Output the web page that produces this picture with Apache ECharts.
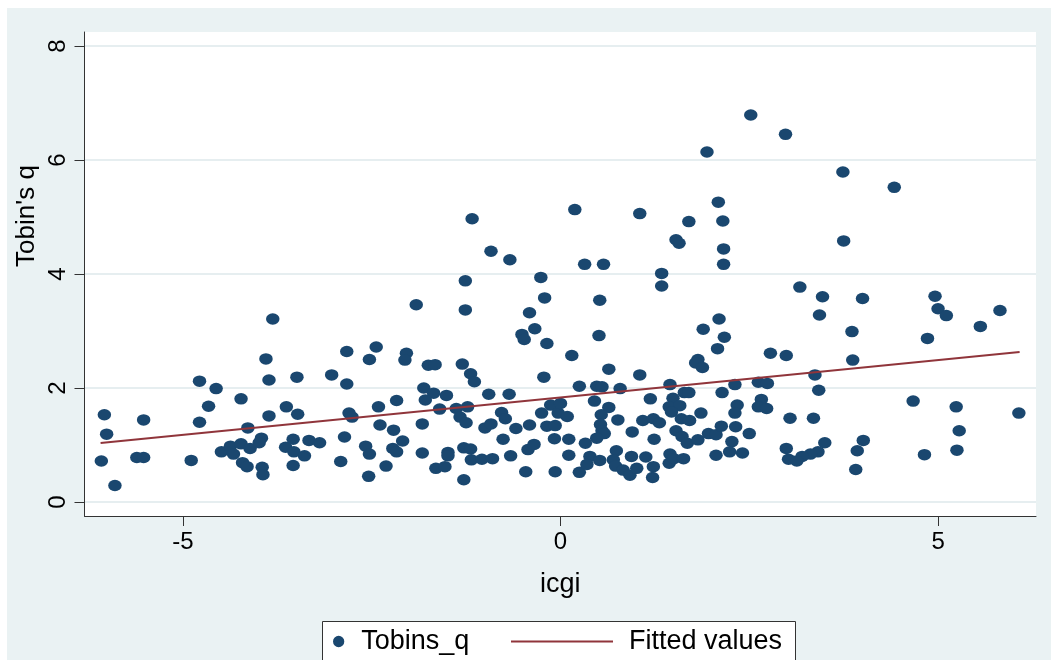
<!DOCTYPE html>
<html><head><meta charset="utf-8">
<script src="https://cdn.jsdelivr.net/npm/echarts@6/dist/echarts.min.js"></script>
<style>html,body{margin:0;padding:0;background:#fff}#c{width:1051px;height:660px}</style>
</head><body><div id="c"></div>
<script>
// ---- data ----
const icgi = [
-3.81,-3.90,-3.86,-3.49,-4.78,-4.56,-4.66,-4.23,-6.04,-5.52,-6.01,-4.78,-3.86,-3.63,-3.48,-4.14,-6.08,-5.90,-5.61,-5.52,
-4.89,-4.49,-4.37,-4.33,-4.23,-4.11,-4.21,-4.15,-3.96,-3.99,-3.95,-3.94,-3.64,-3.54,-3.53,-3.39,-3.54,-3.33,-3.19,
-1.26,-1.91,-1.26,-0.21,-0.41,-0.34,-0.51,-0.48,-0.18,-3.03,-2.83,-2.83,-2.44,-2.53,-2.04,-2.06,-1.75,-1.66,-1.30,-1.19,
-1.14,-0.22,-1.81,-1.68,-1.79,-1.51,-1.60,-1.38,-1.23,-0.95,-0.68,-2.17,-2.41,-2.80,-2.76,-2.86,-2.91,-2.39,-2.21,-2.09,
-2.58,-2.53,-2.22,-2.17,-2.54,-2.31,-1.83,-1.83,-1.33,-1.25,-1.00,-0.92,-0.78,-0.73,-0.59,-0.41,-0.25,-0.13,-0.18,-0.07,
-0.08,-0.76,-1.28,-1.19,-1.49,-1.49,-1.65,-1.53,-1.18,-1.04,-0.90,-1.28,-0.66,-0.46,-0.43,-0.35,-0.07,
-1.17,-0.92,-0.67,-0.26,
1.34,0.52,0.51,2.10,1.89,2.17,2.08,1.82,1.79,1.88,2.78,2.99,0.15,0.64,1.05,0.25,0.48,0.55,0.79,1.45,
1.64,1.70,2.14,2.31,2.62,2.74,1.19,1.49,1.44,1.58,1.47,1.86,1.60,1.71,2.34,2.31,2.66,2.62,2.73,3.04,
0.45,0.64,0.54,0.76,0.53,0.55,0.58,1.09,1.23,1.31,0.95,1.24,1.53,1.61,1.68,1.82,1.96,2.06,2.13,2.32,
2.50,2.27,2.24,2.41,2.06,2.99,3.02,0.11,0.11,0.25,0.33,0.48,0.39,0.35,0.52,0.74,0.70,0.73,0.83,0.92,
0.94,1.01,1.13,1.23,1.22,1.45,1.44,1.50,1.63,-0.03,0.00,0.09,
2.52,2.98,1.94,0.19,1.05,2.09,1.70,2.15,1.53,1.57,2.16,0.32,0.57,2.16,1.34,
3.74,4.42,3.75,
3.17,3.47,3.43,4.00,3.86,4.96,5.00,5.11,5.82,5.56,4.86,3.87,3.37,3.42,3.35,4.67,5.24,6.07,5.28,5.25,
4.82,3.50,4.01,3.93,3.91,3.41,3.31,3.20,3.13
];
const tobinsQ = [
3.21,2.51,2.14,2.19,2.12,1.99,1.68,1.81,1.53,1.44,1.19,1.40,1.51,1.67,1.54,1.30,0.72,0.29,0.78,0.78,
0.73,0.88,0.98,0.84,1.02,0.94,0.69,0.62,1.12,1.04,0.61,0.48,0.96,1.10,0.88,0.81,0.64,1.08,1.04,
3.88,3.46,3.37,3.58,3.32,3.04,2.94,2.85,2.78,2.23,2.64,2.07,2.72,2.50,2.61,2.49,2.40,2.41,2.42,2.25,
2.11,2.19,2.00,1.91,1.79,1.87,1.63,1.64,1.67,1.89,1.89,1.78,1.67,1.56,1.49,1.14,0.71,1.35,1.26,1.07,
0.98,0.84,0.94,0.88,0.45,0.63,1.37,0.86,1.49,1.39,1.30,1.37,1.57,1.46,1.29,1.35,1.56,1.70,1.33,1.34,
1.11,1.10,0.95,0.93,0.87,0.81,0.59,0.62,0.74,0.75,0.76,0.39,0.81,0.53,0.92,1.01,0.53,
4.97,4.40,4.25,3.94,
3.79,3.54,2.92,3.21,3.03,2.89,2.69,2.50,2.44,2.36,2.61,2.57,2.57,2.33,2.23,2.03,2.03,2.02,1.99,2.06,
1.92,1.92,1.92,2.06,2.10,2.08,1.81,1.82,1.67,1.69,1.58,1.56,1.46,1.43,1.70,1.56,1.80,1.67,1.64,1.47,
1.77,1.66,1.53,1.44,1.36,1.25,1.20,1.43,1.46,1.39,1.23,1.10,1.25,1.15,1.03,1.09,1.20,1.18,1.33,1.32,
1.20,1.06,0.88,0.86,0.82,0.94,0.75,1.10,0.82,0.52,1.03,1.12,0.80,0.66,0.73,0.90,0.74,0.63,0.56,0.47,
0.80,0.59,0.79,0.62,0.43,0.84,0.68,0.76,0.76,1.56,1.73,1.50,
6.79,6.45,6.14,5.13,5.06,5.26,4.92,4.93,4.60,4.54,4.44,4.17,4.17,4.17,4.01,
5.79,5.52,4.58,
3.77,3.60,3.28,3.57,2.99,3.61,3.39,3.27,3.36,3.08,2.87,2.49,2.23,1.96,1.47,1.77,1.67,1.56,1.25,0.91,
0.83,1.04,1.08,0.90,0.57,0.88,0.84,0.80,0.72
];
const fitX = [-6.09, 6.08];
const fitY = [1.035, 2.63];
const xTicks = [-5, 0, 5];
const yTicks = [0, 2, 4, 6, 8];
const seriesNames = ['Tobins_q', 'Fitted values'];
const xTitle = 'icgi';
const yTitle = "Tobin's q";

// ---- chart ----
const NAVY = '#1a476f', MAROON = '#90353b', BG = '#eaf2f3', GRIDC = '#e6eef0', AX = '#333333';
const FONT = '"Liberation Sans", Arial, sans-serif';
const pts = icgi.map((x, i) => [x, tobinsQ[i]]);
const fit = fitX.map((x, i) => [x, fitY[i]]);
const ellipse = 'path://M0,5A5,5 0 1 1 10,5A5,5 0 1 1 0,5Z';

const chart = echarts.init(document.getElementById('c'));
chart.setOption({
  animation: false,
  backgroundColor: BG,
  textStyle: { fontFamily: FONT },
  grid: { left: 84.5, top: 32, width: 951.5, height: 484, show: true, backgroundColor: '#fff', borderWidth: 0 },
  xAxis: {
    type: 'value', min: -6.303, max: 6.297,
    name: xTitle, nameLocation: 'middle', nameGap: 55,
    nameTextStyle: { fontSize: 27, color: '#000', fontFamily: FONT },
    axisLine: { show: true, onZero: false, lineStyle: { color: AX, width: 1 } },
    axisTick: { show: true, customValues: xTicks, length: 10, lineStyle: { color: AX, width: 1 } },
    axisLabel: { customValues: xTicks, fontSize: 24, color: '#000', margin: 14, fontFamily: FONT },
    splitLine: { show: false }
  },
  yAxis: {
    type: 'value', min: -0.2456, max: 8.2456,
    axisLine: { show: true, onZero: false, lineStyle: { color: AX, width: 1 } },
    axisTick: { show: true, customValues: yTicks, length: 10, lineStyle: { color: AX, width: 1 } },
    axisLabel: { customValues: yTicks, rotate: 90, fontSize: 24, color: '#000', margin: 14, fontFamily: FONT },
    splitLine: { show: true, lineStyle: { color: GRIDC, width: 2 } }
  },
  legend: [
    { data: [{ name: seriesNames[0], icon: ellipse }], left: 333, top: 628, padding: 0,
      itemWidth: 13, itemHeight: 11.3, selectedMode: false,
      textStyle: { fontSize: 27, color: '#000', fontFamily: FONT, padding: [0, 0, 0, 11] } },
    { data: [{ name: seriesNames[1], icon: 'rect' }], left: 511, top: 628, padding: 0,
      itemWidth: 102, itemHeight: 2, selectedMode: false,
      textStyle: { fontSize: 27, color: '#000', fontFamily: FONT, padding: [0, 0, 0, 11] } }
  ],
  graphic: [
    { type: 'rect', z: 0, shape: { x: 0, y: 0, width: 1051, height: 8 }, style: { fill: '#fff' } },
    { type: 'rect', z: 0, shape: { x: 0, y: 0, width: 7, height: 660 }, style: { fill: '#fff' } },
    { type: 'rect', z: 1, shape: { x: 322.5, y: 621.5, width: 473, height: 60 }, style: { fill: '#fff', stroke: '#333', lineWidth: 1 } },
    { type: 'text', z: 5, x: 27, y: 216, rotation: Math.PI / 2,
      style: { text: yTitle, fontSize: 26, fill: '#000', align: 'center', verticalAlign: 'middle', font: '26px ' + FONT } }
  ],
  series: [
    { name: seriesNames[0], type: 'scatter', data: pts, symbol: ellipse, symbolSize: [13.5, 11.5],
      itemStyle: { color: NAVY, opacity: 1 }, z: 3 },
    { name: seriesNames[1], type: 'line', data: fit, symbol: 'none', showSymbol: false,
      lineStyle: { color: MAROON, width: 2 }, itemStyle: { color: MAROON }, z: 4 }
  ]
});
</script>
</body></html>
